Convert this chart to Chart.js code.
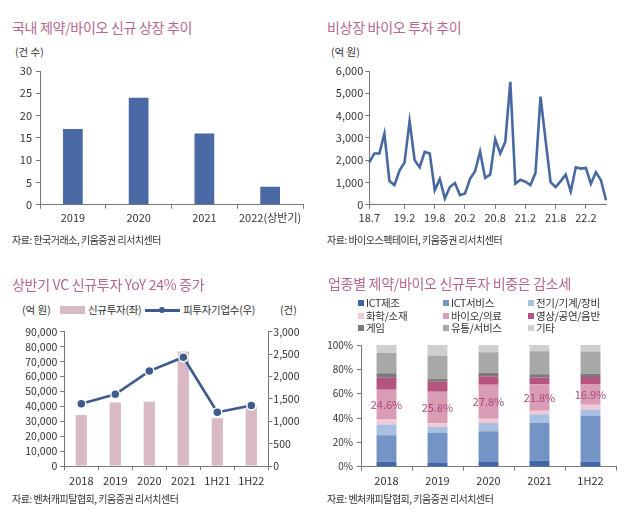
<!DOCTYPE html>
<html><head><meta charset="utf-8">
<script src="https://cdn.jsdelivr.net/npm/chart.js@4.4.1/dist/chart.umd.min.js"></script>
<style>
body{margin:0;width:630px;height:522px;background:#fff;position:relative;overflow:hidden;font-family:'Noto Sans CJK KR','Noto Sans',sans-serif;color:#333}
.t{position:absolute;white-space:nowrap}
.title{font-size:14px;line-height:16px;color:#b4688f;letter-spacing:-0.3px}
.src{font-size:10px;line-height:12px;color:#333;letter-spacing:-0.5px}
.unit{font-size:10.5px;line-height:12px;color:#333}
.leg{font-size:10.5px;line-height:12px;color:#333;letter-spacing:-0.3px}
canvas{position:absolute}
.sq{position:absolute;width:6px;height:6px}
</style></head><body>

<div class="t title" style="left:12px;top:19px">국내 제약/바이오 신규 상장 추이</div>
<div class="t unit" style="left:15px;top:46px">(건 수)</div>
<canvas id="c1" width="315" height="178" style="left:0;top:58px"></canvas>
<div class="t src" style="left:12px;top:234px">자료: 한국거래소, 키움증권 리서치센터</div>

<div class="t title" style="left:327px;top:19px">비상장 바이오 투자 추이</div>
<div class="t unit" style="left:331px;top:46px">(억 원)</div>
<canvas id="c2" width="315" height="178" style="left:315px;top:58px"></canvas>
<div class="t src" style="left:327px;top:234px">자료: 바이오스펙테이터, 키움증권 리서치센터</div>

<div class="t title" style="left:12px;top:276px">상반기 VC 신규투자 YoY 24% 증가</div>
<div class="t unit" style="left:22px;top:304px">(억 원)</div>
<div style="position:absolute;left:60px;top:306px;width:25px;height:8px;background:#d9b9c5"></div>
<div class="t leg" id="lg3a" style="left:88px;top:304px"></div>
<div style="position:absolute;left:145px;top:308.5px;width:35px;height:3px;background:#3d5b8f"></div>
<div style="position:absolute;left:159px;top:307px;width:6px;height:6px;border-radius:50%;background:#3d5b8f"></div>
<div class="t leg" id="lg3b" style="left:183px;top:304px"></div>
<div class="t unit" style="left:280px;top:304px">(건)</div>
<canvas id="c3" width="315" height="180" style="left:0;top:318px"></canvas>
<div class="t src" style="left:12px;top:493px">자료: 벤처캐피탈협회, 키움증권 리서치센터</div>

<div class="t title" style="left:328px;top:275px">업종별 제약/바이오 신규투자 비중은 감소세</div>
<div id="lg4"></div>
<canvas id="c4" width="315" height="163" style="left:315px;top:335px"></canvas>
<div class="t src" style="left:327px;top:493px">자료: 벤처캐피탈협회, 키움증권 리서치센터</div>

<script>
// ---- Panel 1 data ----
const listYears = ['2019', '2020', '2021', '2022(상반기)'];
const listCounts = [17, 24, 16, 4];

// ---- Panel 2 data ----
const invMonths = ['18.7','18.8','18.9','18.10','18.11','18.12',
  '19.1','19.2','19.3','19.4','19.5','19.6','19.7','19.8','19.9','19.10','19.11','19.12',
  '20.1','20.2','20.3','20.4','20.5','20.6','20.7','20.8','20.9','20.10','20.11','20.12',
  '21.1','21.2','21.3','21.4','21.5','21.6','21.7','21.8','21.9','21.10','21.11','21.12',
  '22.1','22.2','22.3','22.4','22.5','22.6'];
const invValues = [1900,2300,2300,3190,1060,880,1530,1900,3750,2000,
  1680,2370,2300,650,1160,280,790,970,430,500,
  1160,1500,2380,1200,1350,2940,2300,2820,5510,940,
  1120,1030,880,1430,4850,2900,1010,790,1060,1350,
  590,1680,1620,1650,940,1460,1100,200];
const invTickLabels = ['18.7','19.2','19.8','20.2','20.8','21.2','21.8','22.2'];

// ---- Panel 3 data ----
const vcYears = ['2018', '2019', '2020', '2021', '1H21', '1H22'];
const vcInvest = [34200, 42500, 43000, 76800, 32000, 39700];
const vcCompanies = [1390, 1600, 2120, 2430, 1200, 1350];
const vcSeriesNames = ['신규투자(좌)', '피투자기업수(우)'];

// ---- Panel 4 data ----
const sectorYears = ['2018', '2019', '2020', '2021', '1H22'];
const sectorNames = ['ICT제조','ICT서비스','전기/기계/장비','화학/소재','바이오/의료','영상/공연/음반','게임','유통/서비스','기타'];
const ictMfg  = [4.1, 3.0, 3.8, 4.9, 4.1];
const ictSvc  = [21.8, 24.8, 25.4, 31.3, 37.6];
const elecMach = [8.7, 4.9, 6.8, 6.9, 5.4];
const chemMat = [4.1, 3.0, 3.5, 2.9, 3.9];
const bioMed  = [24.6, 25.8, 27.8, 21.8, 16.9];
const mediaArt = [9.7, 8.3, 7.1, 5.5, 5.9];
const gameShare = [3.8, 2.4, 2.7, 2.7, 2.5];
const retailSvc = [16.7, 19.1, 16.9, 18.8, 18.3];
const otherShare = [6.5, 8.7, 6.0, 5.2, 5.4];
const sectorSeries = [ictMfg, ictSvc, elecMach, chemMat, bioMed, mediaArt, gameShare, retailSvc, otherShare];
const sectorColors = ['#3f66a8','#7494c6','#a9bfe2','#f1cad7','#d99cb5','#b3557f','#7a7a7a','#a8a8a8','#cfcfcf'];

Chart.defaults.font.family = "'Noto Sans CJK KR','Noto Sans',sans-serif";
Chart.defaults.font.size = 11;
Chart.defaults.color = '#333';

const AX = '#777';
function axisGrid(){ return {drawOnChartArea:false, drawTicks:true, tickLength:4, color:AX}; }
const noPlug = {legend:{display:false}, tooltip:{enabled:false}};

// legends (HTML)
document.getElementById('lg3a').textContent = vcSeriesNames[0];
document.getElementById('lg3b').textContent = vcSeriesNames[1];
const lg4 = document.getElementById('lg4');
const colX = [358, 443, 528], rowY = [303, 315.5, 328];
sectorNames.forEach((n, i) => {
  const c = i % 3, r = Math.floor(i / 3);
  const sq = document.createElement('div');
  sq.className = 'sq';
  sq.style.left = colX[c] + 'px'; sq.style.top = (rowY[r] - 3) + 'px';
  sq.style.background = sectorColors[i];
  lg4.appendChild(sq);
  const tx = document.createElement('div');
  tx.className = 't leg';
  tx.style.left = (colX[c] + 8) + 'px'; tx.style.top = (rowY[r] - 6) + 'px';
  tx.textContent = n;
  lg4.appendChild(tx);
});

// ---- Chart 1 ----
new Chart(document.getElementById('c1'), {
  type: 'bar',
  data: {labels: listYears, datasets: [{data: listCounts, backgroundColor: '#4a69a5', categoryPercentage: 1, barPercentage: 0.30}]},
  options: {
    responsive: false, animation: false,
    layout: {padding: {top: 13, right: 12, left: 0, bottom: 0}},
    plugins: noPlug,
    scales: {
      x: {grid: axisGrid(), border: {color: AX}, ticks: {padding: 3, autoSkip: false, maxRotation: 0, minRotation: 0},
          afterFit: s => { s.height = 31.3; }},
      y: {min: 0, max: 30, ticks: {stepSize: 5, padding: 4, autoSkip: false}, grid: axisGrid(), border: {color: AX},
          afterFit: s => { s.width = 40; }}
    }
  }
});

// ---- Chart 2 ----
const tickIdx = invTickLabels.map(l => invMonths.indexOf(l));
new Chart(document.getElementById('c2'), {
  type: 'line',
  data: {labels: invMonths, datasets: [{data: invValues, borderColor: '#4869a0', borderWidth: 2.6, pointRadius: 0, tension: 0, fill: false}]},
  options: {
    responsive: false, animation: false,
    layout: {padding: {top: 13, right: 24, left: 0, bottom: 0}},
    plugins: noPlug,
    scales: {
      x: {grid: axisGrid(), border: {color: AX},
          ticks: {padding: 3, autoSkip: false, maxRotation: 0, minRotation: 0},
          afterBuildTicks: s => { s.ticks = tickIdx.map(v => ({value: v})); },
          afterFit: s => { s.height = 31.3; }},
      y: {min: 0, max: 6000, ticks: {stepSize: 1000, padding: 2, autoSkip: false, callback: v => v.toLocaleString('en-US')},
          grid: axisGrid(), border: {color: AX},
          afterFit: s => { s.width = 54.3; }}
    }
  }
});

// ---- Chart 3 ----
new Chart(document.getElementById('c3'), {
  type: 'bar',
  data: {labels: vcYears, datasets: [
    {type: 'line', label: vcSeriesNames[1], data: vcCompanies, yAxisID: 'y1', borderColor: '#3d5b8f', borderWidth: 2.6,
     pointRadius: 4.5, pointBackgroundColor: '#3d5b8f', pointBorderColor: '#ffffff', pointBorderWidth: 1.5, tension: 0, order: 0},
    {type: 'bar', label: vcSeriesNames[0], data: vcInvest, yAxisID: 'y', backgroundColor: '#d9b9c5',
     categoryPercentage: 1, barPercentage: 0.33, order: 1}
  ]},
  options: {
    responsive: false, animation: false,
    layout: {padding: {top: 13.7, right: 0, left: 0, bottom: 0}},
    plugins: noPlug,
    scales: {
      x: {grid: axisGrid(), border: {color: AX}, ticks: {padding: 4, autoSkip: false, maxRotation: 0, minRotation: 0},
          afterFit: s => { s.height = 32; }},
      y: {position: 'left', min: 0, max: 90000,
          ticks: {stepSize: 10000, padding: 3, autoSkip: false, font: {size: 10.5}, callback: v => v.toLocaleString('en-US')},
          grid: axisGrid(), border: {color: AX}, afterFit: s => { s.width = 64.3; }},
      y1: {position: 'right', min: 0, max: 3000,
          ticks: {stepSize: 500, padding: 1, autoSkip: false, font: {size: 10.5}, callback: v => v.toLocaleString('en-US')},
          grid: axisGrid(), border: {color: AX}, afterFit: s => { s.width = 46.7; }}
    }
  }
});

// ---- Chart 4 ----
const bioLabel = {
  id: 'bioLabel',
  afterDatasetsDraw(chart) {
    const ctx = chart.ctx, xs = chart.scales.x, ys = chart.scales.y;
    const ds = chart.data.datasets;
    ctx.save();
    ctx.font = "11px 'Noto Sans CJK KR','Noto Sans',sans-serif";
    ctx.fillStyle = '#a94a78';
    ctx.textAlign = 'center'; ctx.textBaseline = 'middle';
    chart.data.labels.forEach((l, i) => {
      let base = 0;
      for (let k = 0; k < 4; k++) base += ds[k].data[i];
      const v = ds[4].data[i];
      ctx.fillText(v.toFixed(1) + '%', xs.getPixelForValue(i), ys.getPixelForValue(base + v / 2));
    });
    ctx.restore();
  }
};
new Chart(document.getElementById('c4'), {
  type: 'bar',
  data: {labels: sectorYears, datasets: sectorSeries.map((d, i) => ({
    label: sectorNames[i], data: d, backgroundColor: sectorColors[i], categoryPercentage: 1, barPercentage: 0.39
  }))},
  options: {
    responsive: false, animation: false,
    layout: {padding: {top: 9.3, right: 14, left: 0, bottom: 0}},
    plugins: noPlug,
    scales: {
      x: {stacked: true, grid: axisGrid(), border: {color: AX}, ticks: {padding: 4, autoSkip: false, maxRotation: 0},
          afterFit: s => { s.height = 31.3; }},
      y: {stacked: true, min: 0, max: 100, ticks: {stepSize: 20, padding: 4, autoSkip: false, font: {size: 10}, callback: v => v + '%'},
          grid: axisGrid(), border: {color: AX}, afterFit: s => { s.width = 46; }}
    }
  },
  plugins: [bioLabel]
});
</script>
</body></html>
